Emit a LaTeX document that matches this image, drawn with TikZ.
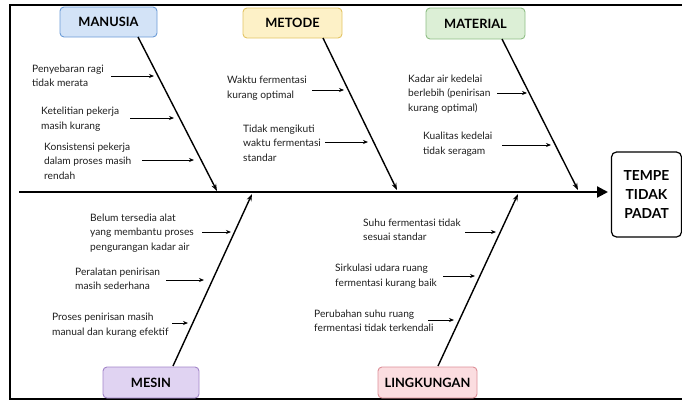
\documentclass[tikz,border=0pt]{standalone}
\usepackage{fontspec}
\setmainfont{Lato}
\usetikzlibrary{arrows.meta}
\definecolor{bluefill}{HTML}{D3E3F7}\definecolor{blueline}{HTML}{6B9BD6}
\definecolor{yelfill}{HTML}{FDF1C7}\definecolor{yelline}{HTML}{E3C465}
\definecolor{grnfill}{HTML}{DCEFD6}\definecolor{grnline}{HTML}{8FBE85}
\definecolor{purfill}{HTML}{E0D3F2}\definecolor{purline}{HTML}{A285C8}
\definecolor{pinkfill}{HTML}{FBDDE0}\definecolor{pinkline}{HTML}{DD8F98}
\definecolor{txt}{HTML}{1E1E1E}
\tikzset{
  catbox/.style={draw, rounded corners=4pt, line width=0.9pt, minimum width=97pt, minimum height=30pt, inner sep=0pt, font=\fontsize{12.8}{14}\selectfont\bfseries},
  cause/.style={anchor=west, align=left, inner sep=0pt, text=txt, font=\fontsize{10.2}{14.4}\selectfont},
  bone/.style={line width=1.4pt, -{Stealth[length=7pt,width=5pt]}},
  carrow/.style={line width=0.8pt, -{Stealth[length=5pt,width=4pt]}},
  spine/.style={line width=2.2pt, -{Triangle[length=11pt,width=11pt]}},
}
\begin{document}
\begin{tikzpicture}[x=1pt,y=-1pt]
\useasboundingbox (0,0) rectangle (682,402);
% frame
\draw[line width=1.8pt] (682,5) -- (10,5) -- (10,399) -- (682,399);
% effect
\node[draw, rounded corners=5pt, line width=1.2pt, minimum width=70pt, minimum height=85pt, inner sep=0pt, align=center, font=\fontsize{13.8}{19}\selectfont\bfseries] (eff) at (646.5,194.5) {TEMPE\\TIDAK\\PADAT};
% spine
\coordinate (s0) at (19,192);
\coordinate (s1) at (608,192);
\draw[spine] (s0) -- (s1);
% categories
\node[catbox, fill=bluefill, draw=blueline, minimum width=97pt] (manusia) at (108.5,22) {MANUSIA};
\node[catbox, fill=yelfill, draw=yelline, minimum width=99pt] (metode) at (292.5,23) {METODE};
\node[catbox, fill=grnfill, draw=grnline, minimum width=99pt, minimum height=31pt] (material) at (475.5,23.5) {MATERIAL};
\node[catbox, fill=purfill, draw=purline, minimum width=96pt, minimum height=31pt] (mesin) at (151,382.5) {MESIN};
\node[catbox, fill=pinkfill, draw=pinkline, minimum width=99pt, minimum height=31pt] (lingkungan) at (427.5,382.5) {LINGKUNGAN};
% bones
\coordinate (ma0) at (138,37);  \coordinate (ma1) at (217,191);
\coordinate (me0) at (323,38);  \coordinate (me1) at (397,190);
\coordinate (mt0) at (502,39);  \coordinate (mt1) at (578,190);
\coordinate (ms0) at (173,366); \coordinate (ms1) at (252,194);
\coordinate (li0) at (438,366); \coordinate (li1) at (518,194);
\draw[bone] (ma0) -- (ma1);
\draw[bone] (me0) -- (me1);
\draw[bone] (mt0) -- (mt1);
\draw[bone] (ms0) -- (ms1);
\draw[bone] (li0) -- (li1);
% MANUSIA causes
\node[cause] (a1) at (32,76) {Penyebaran ragi\\tidak merata};
\node[cause] (a2) at (41,119) {Ketelitian pekerja\\masih kurang};
\node[cause] (a3) at (44,161) {Konsistensi pekerja\\dalam proses masih\\rendah};
\coordinate (a1s) at (111,76); \coordinate (a1e) at (154,76);
\coordinate (a2s) at (130,118); \coordinate (a2e) at (174,118);
\coordinate (a3s) at (142,160); \coordinate (a3e) at (194,160);
\draw[carrow] (a1s) -- (a1e);
\draw[carrow] (a2s) -- (a2e);
\draw[carrow] (a3s) -- (a3e);
% METODE causes
\node[cause] (b1) at (227,88) {Waktu fermentasi\\kurang optimal};
\node[cause] (b2) at (243,143) {Tidak mengikuti\\waktu fermentasi\\standar};
\coordinate (b1s) at (312,90); \coordinate (b1e) at (344,90);
\coordinate (b2s) at (325,142); \coordinate (b2e) at (368,142);
\draw[carrow] (b1s) -- (b1e);
\draw[carrow] (b2s) -- (b2e);
% MATERIAL causes
\node[cause] (c1) at (408,94) {Kadar air kedelai\\berlebih (penirisan\\kurang optimal)};
\node[cause] (c2) at (423,144) {Kualitas kedelai\\tidak seragam};
\coordinate (c1s) at (497,93); \coordinate (c1e) at (527,93);
\coordinate (c2s) at (502,145); \coordinate (c2e) at (551,145);
\draw[carrow] (c1s) -- (c1e);
\draw[carrow] (c2s) -- (c2e);
% MESIN causes
\node[cause] (d1) at (90,233) {Belum tersedia alat\\yang membantu proses\\pengurangan kadar air};
\node[cause] (d2) at (75,279) {Peralatan penirisan\\masih sederhana};
\node[cause] (d3) at (52,325) {Proses penirisan masih\\manual dan kurang efektif};
\coordinate (d1s) at (202,232); \coordinate (d1e) at (231,232);
\coordinate (d2s) at (166,280); \coordinate (d2e) at (204,280);
\coordinate (d3s) at (172,323); \coordinate (d3e) at (188,323);
\draw[carrow] (d1s) -- (d1e);
\draw[carrow] (d2s) -- (d2e);
\draw[carrow] (d3s) -- (d3e);
% LINGKUNGAN causes
\node[cause] (e1) at (363,230) {Suhu fermentasi tidak\\sesuai standar};
\node[cause] (e2) at (335,276) {Sirkulasi udara ruang\\fermentasi kurang baik};
\node[cause] (e3) at (314,321) {Perubahan suhu ruang\\fermentasi tidak terkendali};
\coordinate (e1s) at (465,232); \coordinate (e1e) at (496,232);
\coordinate (e2s) at (443,276); \coordinate (e2e) at (475,276);
\coordinate (e3s) at (428,320); \coordinate (e3e) at (454,320);
\draw[carrow] (e1s) -- (e1e);
\draw[carrow] (e2s) -- (e2e);
\draw[carrow] (e3s) -- (e3e);
\end{tikzpicture}
\end{document}
